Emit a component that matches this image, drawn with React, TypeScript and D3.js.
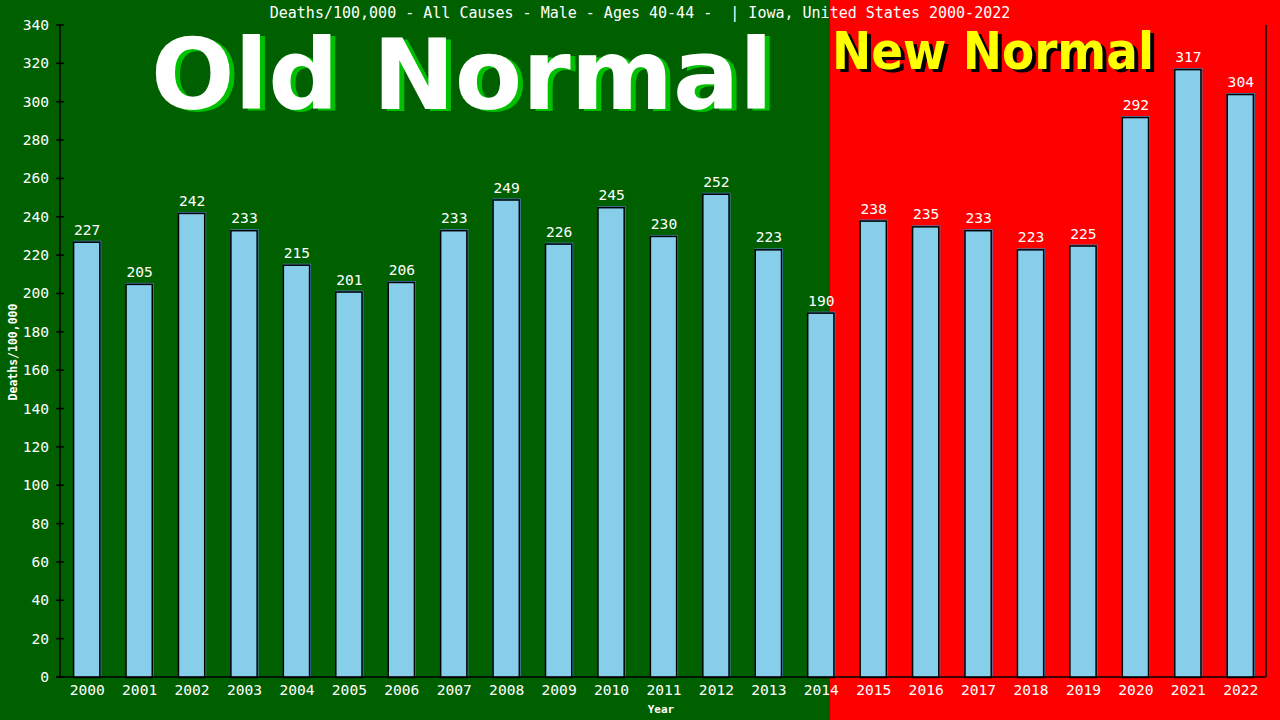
import React from "react";
import * as d3 from "d3";

const years = ["2000","2001","2002","2003","2004","2005","2006","2007","2008","2009","2010","2011","2012","2013","2014","2015","2016","2017","2018","2019","2020","2021","2022"];
const deaths = [227,205,242,233,215,201,206,233,249,226,245,230,252,223,190,238,235,233,223,225,292,317,304];
const yTicks = [0,20,40,60,80,100,120,140,160,180,200,220,240,260,280,300,320,340];
const title = "Deaths/100,000 - All Causes - Male - Ages 40-44 -  | Iowa, United States 2000-2022";

const W = 1280, H = 720;
const L = 60, R = 1266, T = 25, B = 677;
const SPLIT = 830;
const mono = "'DejaVu Sans Mono', monospace";

export default function App() {
  const x = d3.scaleBand().domain(years).range([L, R]).paddingInner(0.5).paddingOuter(0.25);
  const y = d3.scaleLinear().domain([0, 340]).range([B, T]);
  const bw = x.bandwidth();
  return (
    <svg width={W} height={H} style={{ position: "absolute", left: 0, top: 0 }}>
      <rect x={0} y={0} width={SPLIT} height={H} fill="#006000" />
      <rect x={SPLIT} y={0} width={W - SPLIT} height={H} fill="#ff0000" />
      <text x={640} y={18} textAnchor="middle" fill="#fff" fontFamily={mono} fontSize={15} style={{ whiteSpace: "pre" }}>{title}</text>
      <g fontFamily="'DejaVu Sans', sans-serif" fontWeight="bold">
        <text x={467} y={111} textAnchor="middle" fontSize={98} fill="#00c000" textLength={622} lengthAdjust="spacingAndGlyphs">Old Normal</text>
        <text x={462} y={109} textAnchor="middle" fontSize={98} fill="#ffffff" textLength={622} lengthAdjust="spacingAndGlyphs">Old Normal</text>
        <text x={997} y={72} textAnchor="middle" fontSize={51} fill="#000" textLength={322} lengthAdjust="spacingAndGlyphs">New Normal</text>
        <text x={993} y={69} textAnchor="middle" fontSize={51} fill="#ffff00" textLength={322} lengthAdjust="spacingAndGlyphs">New Normal</text>
      </g>
      {years.map((yr, i) => {
        const bx = x(yr)!;
        const by = y(deaths[i]);
        return (
          <g key={yr}>
            <rect x={bx} y={by - 1} width={bw + 2} height={B - by + 1} fill="#4682b4" />
            <rect x={bx + 0.5} y={by + 0.5} width={bw} height={B - by} fill="#87ceeb" stroke="#000" strokeWidth={1.5} />
            <text x={bx + bw / 2 + 1} y={by - 7} textAnchor="middle" fill="#fff" fontFamily={mono} fontSize={14.6}>{deaths[i]}</text>
            <text x={bx + bw / 2 + 1} y={695} textAnchor="middle" fill="#fff" fontFamily={mono} fontSize={14.6}>{yr}</text>
          </g>
        );
      })}
      <line x1={L} y1={T} x2={L} y2={B} stroke="#000" strokeWidth={1.5} />
      <line x1={R} y1={T} x2={R} y2={B} stroke="#000" strokeWidth={1.5} />
      <line x1={56} y1={B} x2={R} y2={B} stroke="#000" strokeWidth={1.5} />
      {yTicks.map((t) => (
        <g key={t}>
          <line x1={56} x2={64} y1={y(t)} y2={y(t)} stroke="#000" strokeWidth={1.5} />
          <text x={49} y={y(t) + 5} textAnchor="end" fill="#fff" fontFamily={mono} fontSize={14.6}>{t}</text>
        </g>
      ))}
      <text x={661} y={713} textAnchor="middle" fill="#fff" fontFamily={mono} fontWeight="bold" fontSize={11}>Year</text>
      <text transform="translate(17,352) rotate(-90)" textAnchor="middle" fill="#fff" fontFamily={mono} fontWeight="bold" fontSize={11.5}>Deaths/100,000</text>
    </svg>
  );
}
